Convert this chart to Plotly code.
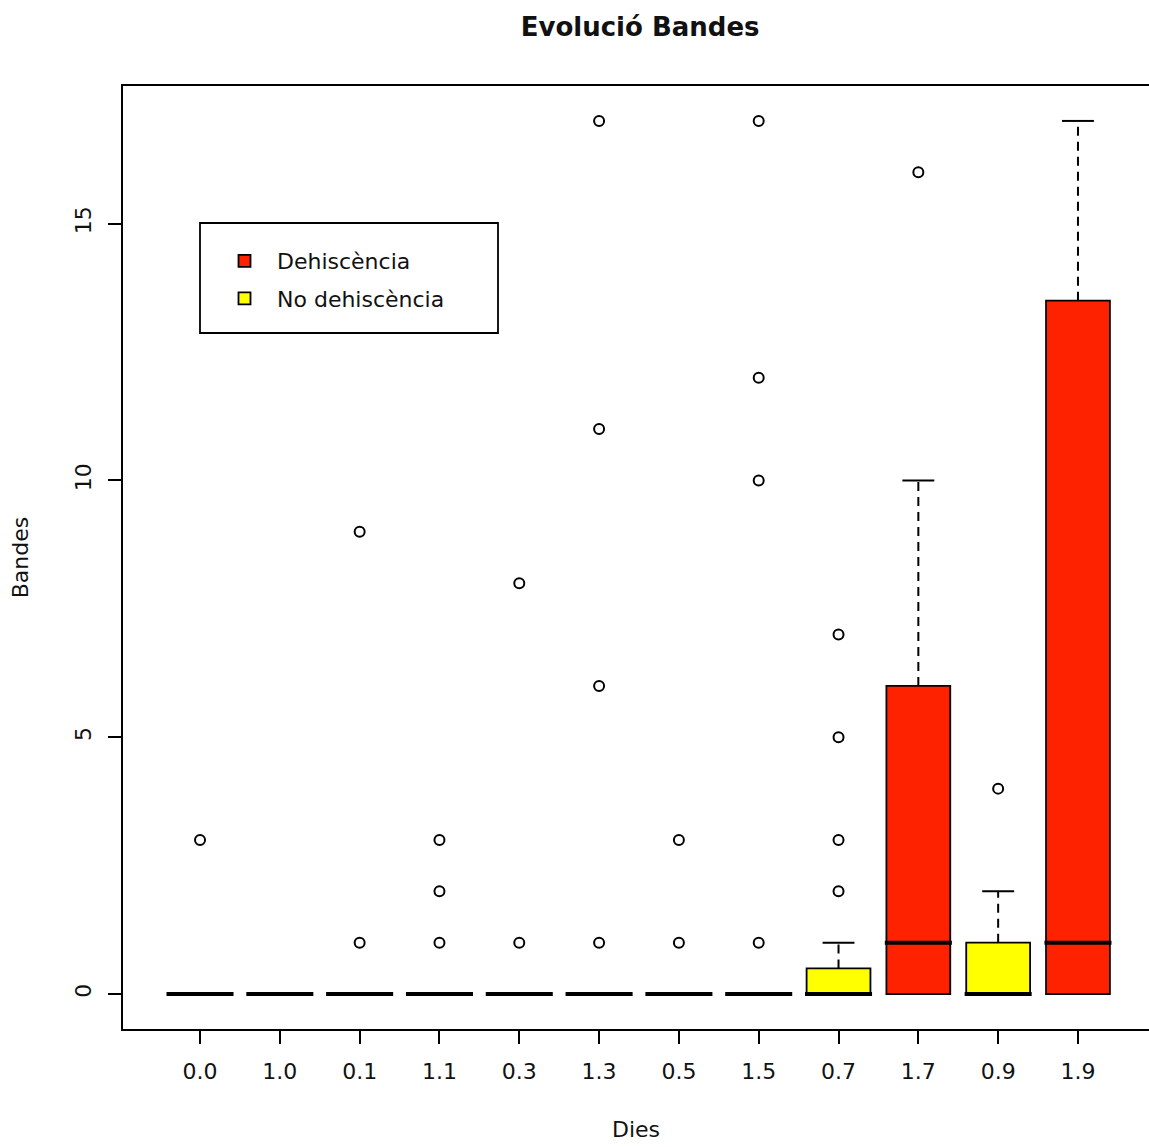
import plotly.graph_objects as go

# ---- data ----
categories = ["0.0", "1.0", "0.1", "1.1", "0.3", "1.3", "0.5", "1.5", "0.7", "1.7", "0.9", "1.9"]
groups = ["No dehiscència", "Dehiscència"] * 6
q1 = [0, 0, 0, 0, 0, 0, 0, 0, 0, 0, 0, 0]
medians = [0, 0, 0, 0, 0, 0, 0, 0, 0, 1, 0, 1]
q3 = [0, 0, 0, 0, 0, 0, 0, 0, 0.5, 6, 1, 13.5]
upper_whisker = [0, 0, 0, 0, 0, 0, 0, 0, 1, 10, 2, 17]
outliers = [[3], [], [9, 1], [3, 2, 1], [8, 1], [17, 11, 6, 1],
            [3, 1], [17, 12, 10, 1], [7, 5, 3, 2], [16], [4], []]
y_ticks = [0, 5, 10, 15]

group_colors = {"Dehiscència": "#FF2200", "No dehiscència": "#FFFF00"}
legend_order = ["Dehiscència", "No dehiscència"]

positions = list(range(1, len(categories) + 1))
BOX_HALF = 0.4
CAP_HALF = 0.2
MED_HALF = 0.42
FONT = "DejaVu Sans, Liberation Sans, sans-serif"
TXT = "#111"

fig = go.Figure()

# boxes (Q1 -> Q3)
for grp in legend_order:
    idx = [i for i, g in enumerate(groups) if g == grp]
    fig.add_trace(go.Bar(
        x=[positions[i] for i in idx],
        base=[q1[i] for i in idx],
        y=[q3[i] - q1[i] for i in idx],
        width=2 * BOX_HALF,
        marker=dict(color=group_colors[grp], line=dict(color="black", width=1.8)),
        name=grp, legendgroup=grp, showlegend=True,
    ))

# dashed whiskers and caps
wx, wy, cx, cy = [], [], [], []
for p, top, uw in zip(positions, q3, upper_whisker):
    if uw > top:
        wx += [p, p, None]
        wy += [top, uw, None]
        cx += [p - CAP_HALF, p + CAP_HALF, None]
        cy += [uw, uw, None]
fig.add_trace(go.Scatter(x=wx, y=wy, mode="lines", showlegend=False, hoverinfo="skip",
                         line=dict(color="black", width=2, dash="9px,6px")))
fig.add_trace(go.Scatter(x=cx, y=cy, mode="lines", showlegend=False, hoverinfo="skip",
                         line=dict(color="black", width=2)))

# medians (thick)
mx, my = [], []
for p, m in zip(positions, medians):
    mx += [p - MED_HALF, p + MED_HALF, None]
    my += [m, m, None]
fig.add_trace(go.Scatter(x=mx, y=my, mode="lines", showlegend=False, hoverinfo="skip",
                         line=dict(color="black", width=4)))

# outliers
ox, oy = [], []
for p, outs in zip(positions, outliers):
    for v in outs:
        ox.append(p)
        oy.append(v)
fig.add_trace(go.Scatter(x=ox, y=oy, mode="markers", showlegend=False,
                         marker=dict(symbol="circle-open", size=10, color="black",
                                     line=dict(width=2, color="black"))))

fig.update_layout(
    width=1149, height=1147,
    margin=dict(l=123, r=0, t=86, b=118),
    paper_bgcolor="white", plot_bgcolor="white",
    barmode="overlay",
    font=dict(family=FONT, size=22, color=TXT),
    title=dict(text="<b>Evolució Bandes</b>", x=0.504, xref="paper",
               y=1 - 27 / 1147, yref="container", xanchor="center", yanchor="middle",
               font=dict(size=26, family=FONT, color=TXT)),
    xaxis=dict(range=[0.035, 12.89], tickmode="array", tickvals=positions, ticktext=categories,
               ticks="outside", ticklen=13, tickwidth=1.8, tickcolor="black",
               showline=True, linecolor="black", linewidth=1.8, mirror=True,
               showgrid=False, zeroline=False, ticklabelstandoff=9,
               tickfont=dict(size=22, family=FONT, color=TXT),
               title=dict(text="Dies", standoff=38, font=dict(size=22, family=FONT, color=TXT))),
    yaxis=dict(range=[-0.68, 17.68], tickmode="array", tickvals=y_ticks,
               ticks="outside", ticklen=13, tickwidth=1.8, tickcolor="black",
               showline=True, linecolor="black", linewidth=1.8, mirror=False,
               showgrid=False, zeroline=False, tickangle=-90, ticklabelstandoff=8,
               tickfont=dict(size=22, family=FONT, color=TXT),
               title=dict(text="Bandes", standoff=37, font=dict(size=22, family=FONT, color=TXT))),
    legend=dict(x=(212 - 123) / 1026, y=(1029 - 240) / 943, xanchor="left", yanchor="top",
                bgcolor="rgba(0,0,0,0)", borderwidth=0, tracegroupgap=6, itemwidth=55,
                font=dict(size=22, family=FONT, color=TXT)),
    shapes=[dict(type="rect", xref="paper", yref="paper",
                 x0=(200 - 123) / 1026, x1=(498 - 123) / 1026,
                 y0=(1029 - 333) / 943, y1=(1029 - 223) / 943,
                 line=dict(color="black", width=1.8), fillcolor="white", layer="below")],
)

fig.write_html("out.html")
